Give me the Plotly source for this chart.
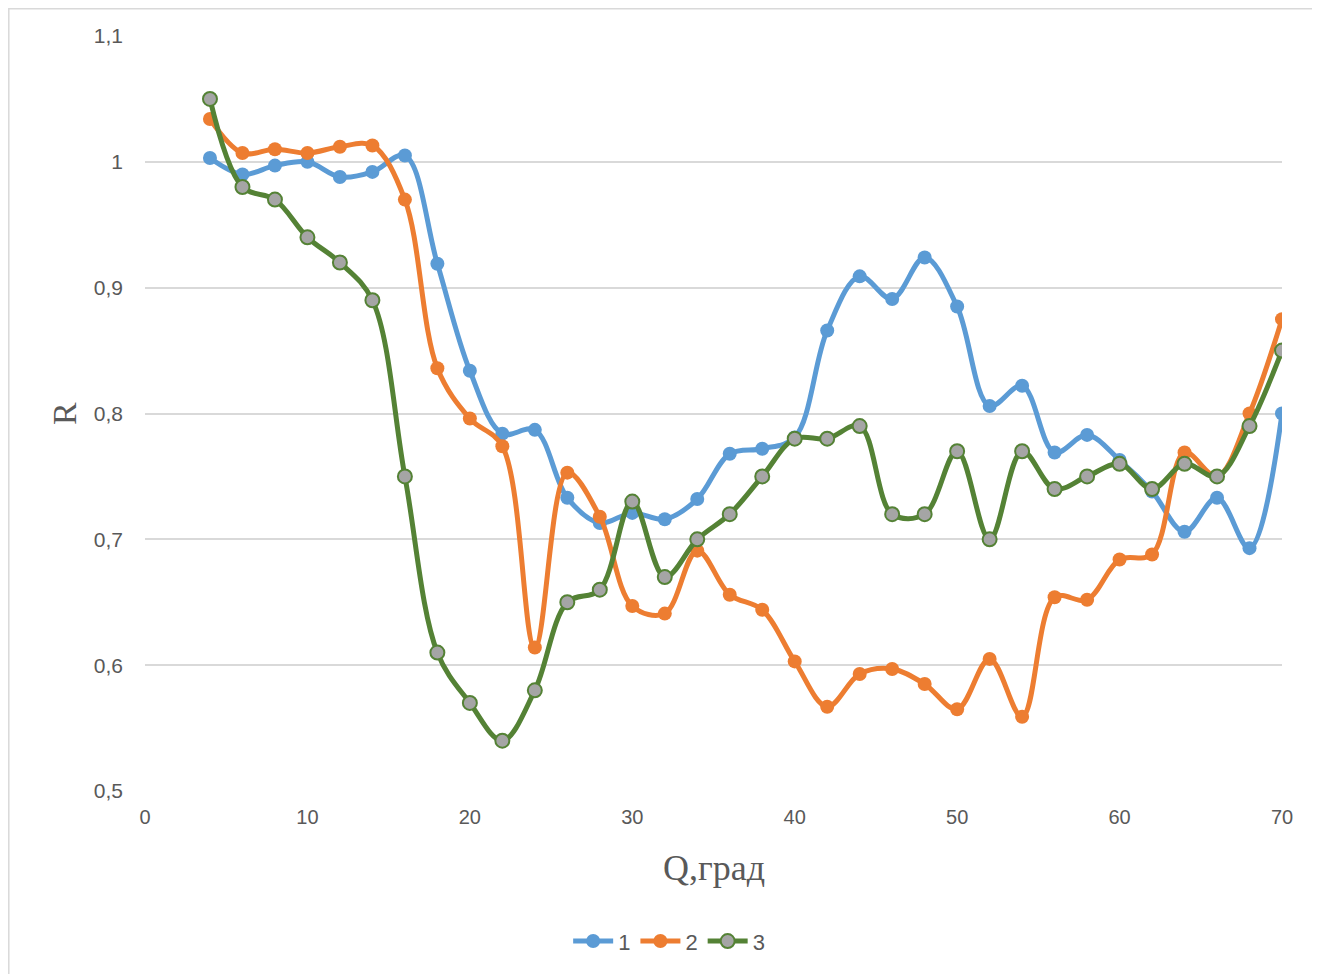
import plotly.graph_objects as go

angles = [4, 6, 8, 10, 12, 14, 16, 18, 20, 22, 24, 26, 28, 30, 32, 34, 36,
          38, 40, 42, 44, 46, 48, 50, 52, 54, 56, 58, 60, 62, 64, 66, 68, 70]

series_1 = [1.003, 0.990, 0.997, 1.000, 0.988, 0.992, 1.005, 0.919, 0.834, 0.784,
            0.787, 0.733, 0.713, 0.721, 0.716, 0.732, 0.768, 0.772, 0.781, 0.866,
            0.909, 0.891, 0.924, 0.885, 0.806, 0.822, 0.769, 0.783, 0.763, 0.738,
            0.706, 0.733, 0.693, 0.800]

series_2 = [1.034, 1.007, 1.010, 1.007, 1.012, 1.013, 0.970, 0.836, 0.796, 0.774,
            0.614, 0.753, 0.718, 0.647, 0.641, 0.691, 0.656, 0.644, 0.603, 0.567,
            0.593, 0.597, 0.585, 0.565, 0.605, 0.559, 0.654, 0.652, 0.684, 0.688,
            0.769, 0.750, 0.800, 0.875]

series_3 = [1.05, 0.98, 0.97, 0.94, 0.92, 0.89, 0.75, 0.61, 0.57, 0.54,
            0.58, 0.65, 0.66, 0.73, 0.67, 0.70, 0.72, 0.75, 0.78, 0.78,
            0.79, 0.72, 0.72, 0.77, 0.70, 0.77, 0.74, 0.75, 0.76, 0.74,
            0.76, 0.75, 0.79, 0.85]

names = ["1", "2", "3"]
x_ticks = [0, 10, 20, 30, 40, 50, 60, 70]
y_ticks = [0.5, 0.6, 0.7, 0.8, 0.9, 1.0, 1.1]

BLUE = "#5B9BD5"
ORANGE = "#ED7D31"
GREEN = "#548235"
GRAY = "#A5A5A5"
TXT = "#595959"

fig = go.Figure()
fig.add_trace(go.Scatter(
    x=angles, y=series_1, name=names[0], mode="lines+markers",
    line=dict(color=BLUE, width=5, shape="spline", smoothing=1),
    marker=dict(color=BLUE, size=14, line=dict(width=0)),
))
fig.add_trace(go.Scatter(
    x=angles, y=series_2, name=names[1], mode="lines+markers",
    line=dict(color=ORANGE, width=5, shape="spline", smoothing=1),
    marker=dict(color=ORANGE, size=14, line=dict(width=0)),
))
fig.add_trace(go.Scatter(
    x=angles, y=series_3, name=names[2], mode="lines+markers",
    line=dict(color=GREEN, width=5, shape="spline", smoothing=1),
    marker=dict(color=GRAY, size=14, line=dict(color=GREEN, width=2)),
))

fig.update_layout(
    width=1312, height=966,
    margin=dict(l=137, r=38, t=28, b=183),
    paper_bgcolor="white", plot_bgcolor="white",
    separators=", ",
    font=dict(family="Liberation Sans, Arial, sans-serif", color=TXT, size=20),
    showlegend=True,
    legend=dict(orientation="h", x=0.461, xanchor="center", y=-0.199, yanchor="middle",
                font=dict(size=22, color=TXT), itemwidth=40, traceorder="normal"),
    xaxis=dict(range=[0, 70], tickvals=x_ticks, showgrid=False, zeroline=False,
               showline=False, ticks="", ticklabelstandoff=12,
               tickfont=dict(size=20, color=TXT)),
    yaxis=dict(range=[0.5, 1.1], tickvals=y_ticks, showgrid=True, gridcolor="#D9D9D9",
               gridwidth=1.5, zeroline=False, showline=False, ticks="",
               ticklabelstandoff=21, tickfont=dict(size=21, color=TXT)),
    annotations=[
        dict(text="R", xref="paper", yref="paper", x=-0.0708, y=0.5, textangle=-90,
             showarrow=False, xanchor="center", yanchor="middle",
             font=dict(family="Liberation Serif, Times New Roman, serif", size=34, color=TXT)),
        dict(text="Q,град", xref="paper", yref="paper", x=0.5, y=-0.102,
             showarrow=False, xanchor="center", yanchor="middle",
             font=dict(family="Liberation Serif, Times New Roman, serif", size=36, color=TXT)),
    ],
    shapes=[
        dict(type="rect", xref="paper", yref="paper", x0=-0.1198, x1=1.2,
             y0=-0.3, y1=1.0361, line=dict(color="#D9D9D9", width=1.5),
             fillcolor="rgba(0,0,0,0)", layer="below"),
    ],
)

fig.write_html("out.html")
